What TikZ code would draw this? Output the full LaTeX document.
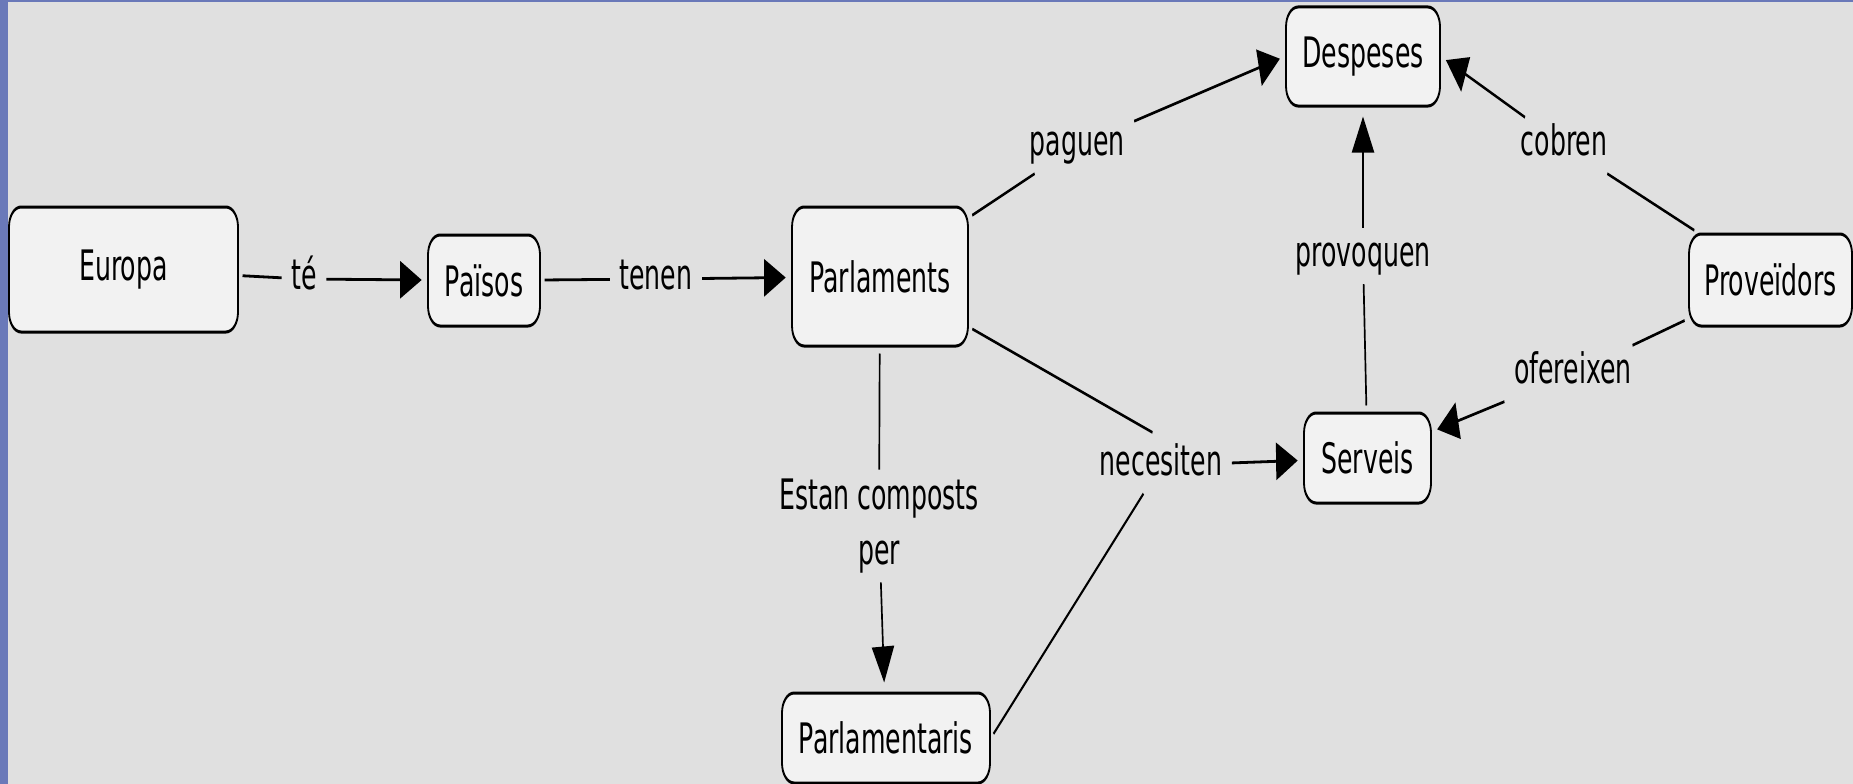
\documentclass[tikz,border=0pt]{standalone}
\usepackage{fontspec}
\setmainfont{DejaVu Sans}
\usetikzlibrary{arrows.meta}

\definecolor{bgGrey}{RGB}{224,224,224}
\definecolor{frameBlue}{RGB}{106,121,185}
\definecolor{boxFill}{RGB}{242,242,242}

\tikzset{
  mapfont/.style={font=\fontsize{42}{55}\selectfont},
  concept/.style={mapfont, draw=black, line width=3pt, fill=boxFill,
    rounded corners=20pt, inner sep=0pt, align=center},
  linkword/.style={mapfont, inner xsep=16pt, inner ysep=8pt,
    text height=30pt, text depth=10pt},
  linkblock/.style={mapfont, inner xsep=16pt, inner ysep=9pt, align=center},
  link/.style={line width=2.8pt, shorten <=6pt},
  arrowlink/.style={line width=2.8pt, shorten >=9pt,
    -{Triangle[length=36pt,width=37pt]}},
}

\begin{document}
\begin{tikzpicture}[x=1pt, y=-1pt]
  % page frame
  \fill[bgGrey] (0,0) rectangle (1853,784);
  \useasboundingbox (0,0) rectangle (1853,784);
  \fill[frameBlue] (0,0) rectangle (8,784);
  \fill[frameBlue] (0,0) rectangle (1853,2.5);

  % the map is laid out wide and then narrowed horizontally
  \begin{scope}[transform canvas={xscale=0.6}, x=1.666667pt, y=-1pt]
    % concepts
    \node[concept, minimum width=381.7pt, minimum height=125pt] (europa) at (123.5,269.5) {Europa};
    \node[concept, minimum width=186.7pt, minimum height=91pt] (paisos) at (484,280.5) {Països};
    \node[concept, minimum width=293.3pt, minimum height=139pt] (parlaments) at (880,276.5) {Parlaments};
    \node[concept, minimum width=256.7pt, minimum height=99pt] (despeses) at (1363,56.5) {Despeses};
    \node[concept, minimum width=271.7pt, minimum height=92pt] (proveidors) at (1770.5,280) {Proveïdors};
    \node[concept, minimum width=211.7pt, minimum height=90pt] (serveis) at (1367.5,458) {Serveis};
    \node[concept, minimum width=346.7pt, minimum height=90pt] (parlamentaris) at (886,738) {Parlamentaris};

    % linking phrases
    \node[linkword] (te) at (304,279) {té};
    \node[linkword] (tenen) at (656,279) {tenen};
    \node[linkword] (paguen) at (1077,145.5) {paguen};
    \node[linkword] (provoquen) at (1363,256) {provoquen};
    \node[linkword] (cobren) at (1564,145.5) {cobren};
    \node[linkword] (ofereixen) at (1573,373.5) {ofereixen};
    \node[linkword] (necesiten) at (1161,465.5) {necesiten};
    \node[linkblock] (estan) at (879,526) {Estan composts\\per};

    % propositions
    \draw[link] (europa) -- (te);
    \draw[arrowlink] (te) -- (paisos);
    \draw[link] (paisos) -- (tenen);
    \draw[arrowlink] (tenen) -- (parlaments);
    \draw[link] (parlaments) -- (paguen);
    \draw[arrowlink] (paguen) -- (despeses.west);
    \draw[link] (serveis) -- (provoquen);
    \draw[arrowlink] (provoquen) -- (despeses);
    \draw[link] (proveidors) -- (cobren);
    \draw[arrowlink] (cobren) -- (despeses.east);
    \draw[link] (proveidors) -- (ofereixen);
    \draw[arrowlink] (ofereixen) -- (serveis);
    \draw[link, shorten >=15pt] (parlaments) -- (necesiten.north);
    \draw[link] (parlamentaris.east) -- (necesiten);
    \draw[arrowlink] (necesiten) -- (serveis);
    \draw[link] (parlaments) -- (estan);
    \draw[arrowlink] (estan) -- (parlamentaris);
  \end{scope}
\end{tikzpicture}
\end{document}
